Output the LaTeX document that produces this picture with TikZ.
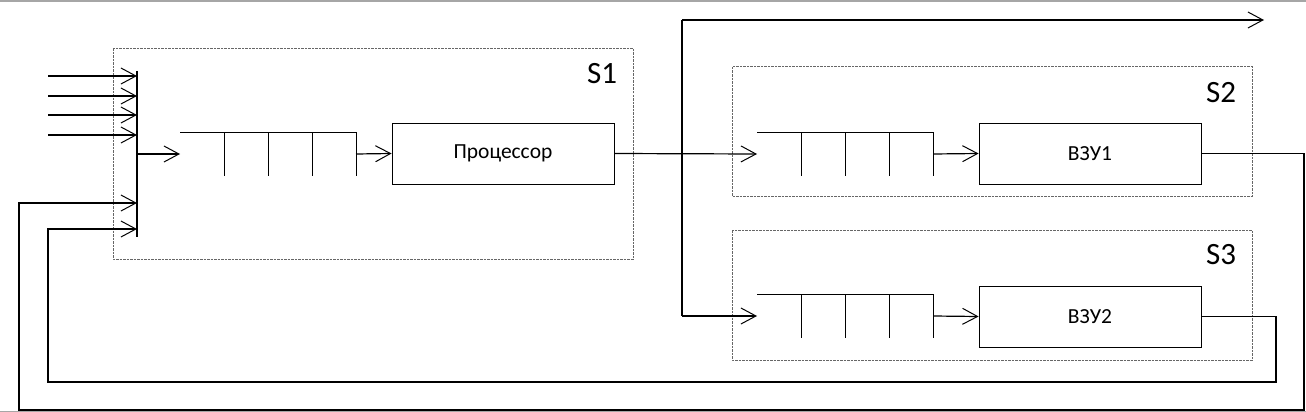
\documentclass[tikz,border=0pt]{standalone}
\usepackage{fontspec}
\setmainfont{Carlito}
\usetikzlibrary{arrows.meta}
\tikzset{
  wire/.style={line width=1.2pt, black},
  arr/.style={wire, -{Straight Barb[length=15pt,width=16pt,line width=1pt]}},
  sbox/.style={draw=black!60, line width=1pt, dash pattern=on 2.5pt off 1pt},
  blk/.style={draw, line width=0.9pt, minimum width=222pt, minimum height=61pt, inner sep=0pt, font=\fontsize{21.5}{24}\selectfont},
  slabel/.style={font=\fontsize{31}{36}\selectfont, inner sep=0pt},
  qline/.style={line width=0.9pt, black},
  frame/.style={gray!70, line width=1.5pt}
}
\newcommand{\drawqueue}[3]{% name, x start, y mid
  \coordinate (#1in) at (#2,#3);
  \coordinate (#1out) at (#2+176,#3);
  \draw[qline] (#2,#3-22) -- (#2+176,#3-22);
  \foreach \k in {44,88,132,176} \draw[qline] (#2+\k,#3-22) -- (#2+\k,#3+22);
}
\begin{document}
\begin{tikzpicture}[x=1pt,y=-1pt]
\useasboundingbox (0,0) rectangle (1306,412);
\fill[white] (0,0) rectangle (1306,412);
% frame lines
\draw[frame] (0,1) -- (1306,1);
\draw[frame] (0,411.5) -- (1306,411.5);
% subsystem boxes
\draw[sbox] (113,48.5) rectangle (633,259);
\draw[sbox] (732,67) rectangle (1252,196);
\draw[sbox] (732,230) rectangle (1252,360);
\node[slabel] (s1) at (602,74) {S1};
\node[slabel] (s2) at (1221,93) {S2};
\node[slabel] (s3) at (1221,255) {S3};
% bus
\coordinate (busT) at (137,71);
\coordinate (busB) at (137,237);
\draw[wire] (busT) -- (busB);
\foreach \y/\n in {76/a,96/b,115/c,135/d}{
  \coordinate (in\n) at (48,\y);
  \coordinate (bus\n) at (137,\y);
  \draw[arr] (in\n) -- (bus\n);
}
\coordinate (busout) at (137,154);
% queues
\drawqueue{qa}{180}{154}
\drawqueue{qb}{757}{154}
\drawqueue{qc}{757}{316}
% blocks
\node[blk] (proc) at (503,153.5) {Процессор};
\node[blk] (vzu1) at (1090,153.5) {ВЗУ1};
\node[blk] (vzu2) at (1090,316.5) {ВЗУ2};
% connectors
\draw[arr] (busout) -- (qain);
\draw[arr] (qaout) -- (proc.west);
\draw[arr] (proc.east) -- (qbin);
\coordinate (jtop) at (682,20);
\coordinate (jbot) at (682,316);
\coordinate (outend) at (1264,20);
\draw[wire] (jtop) -- (jbot);
\draw[arr] (jtop) -- (outend);
\draw[arr] (jbot) -- (qcin);
\draw[arr] (qbout) -- (vzu1.west);
\draw[arr] (qcout) -- (vzu2.west);
% feedback loops
\coordinate (fbA) at (137,203);
\coordinate (fbB) at (137,229);
\draw[arr] (vzu1.east) -- (1304,153.5) -- (1304,410) -- (19,410) -- (19,203) -- (fbA);
\draw[arr] (vzu2.east) -- (1276,316.5) -- (1276,382) -- (48,382) -- (48,229) -- (fbB);
\end{tikzpicture}
\end{document}
